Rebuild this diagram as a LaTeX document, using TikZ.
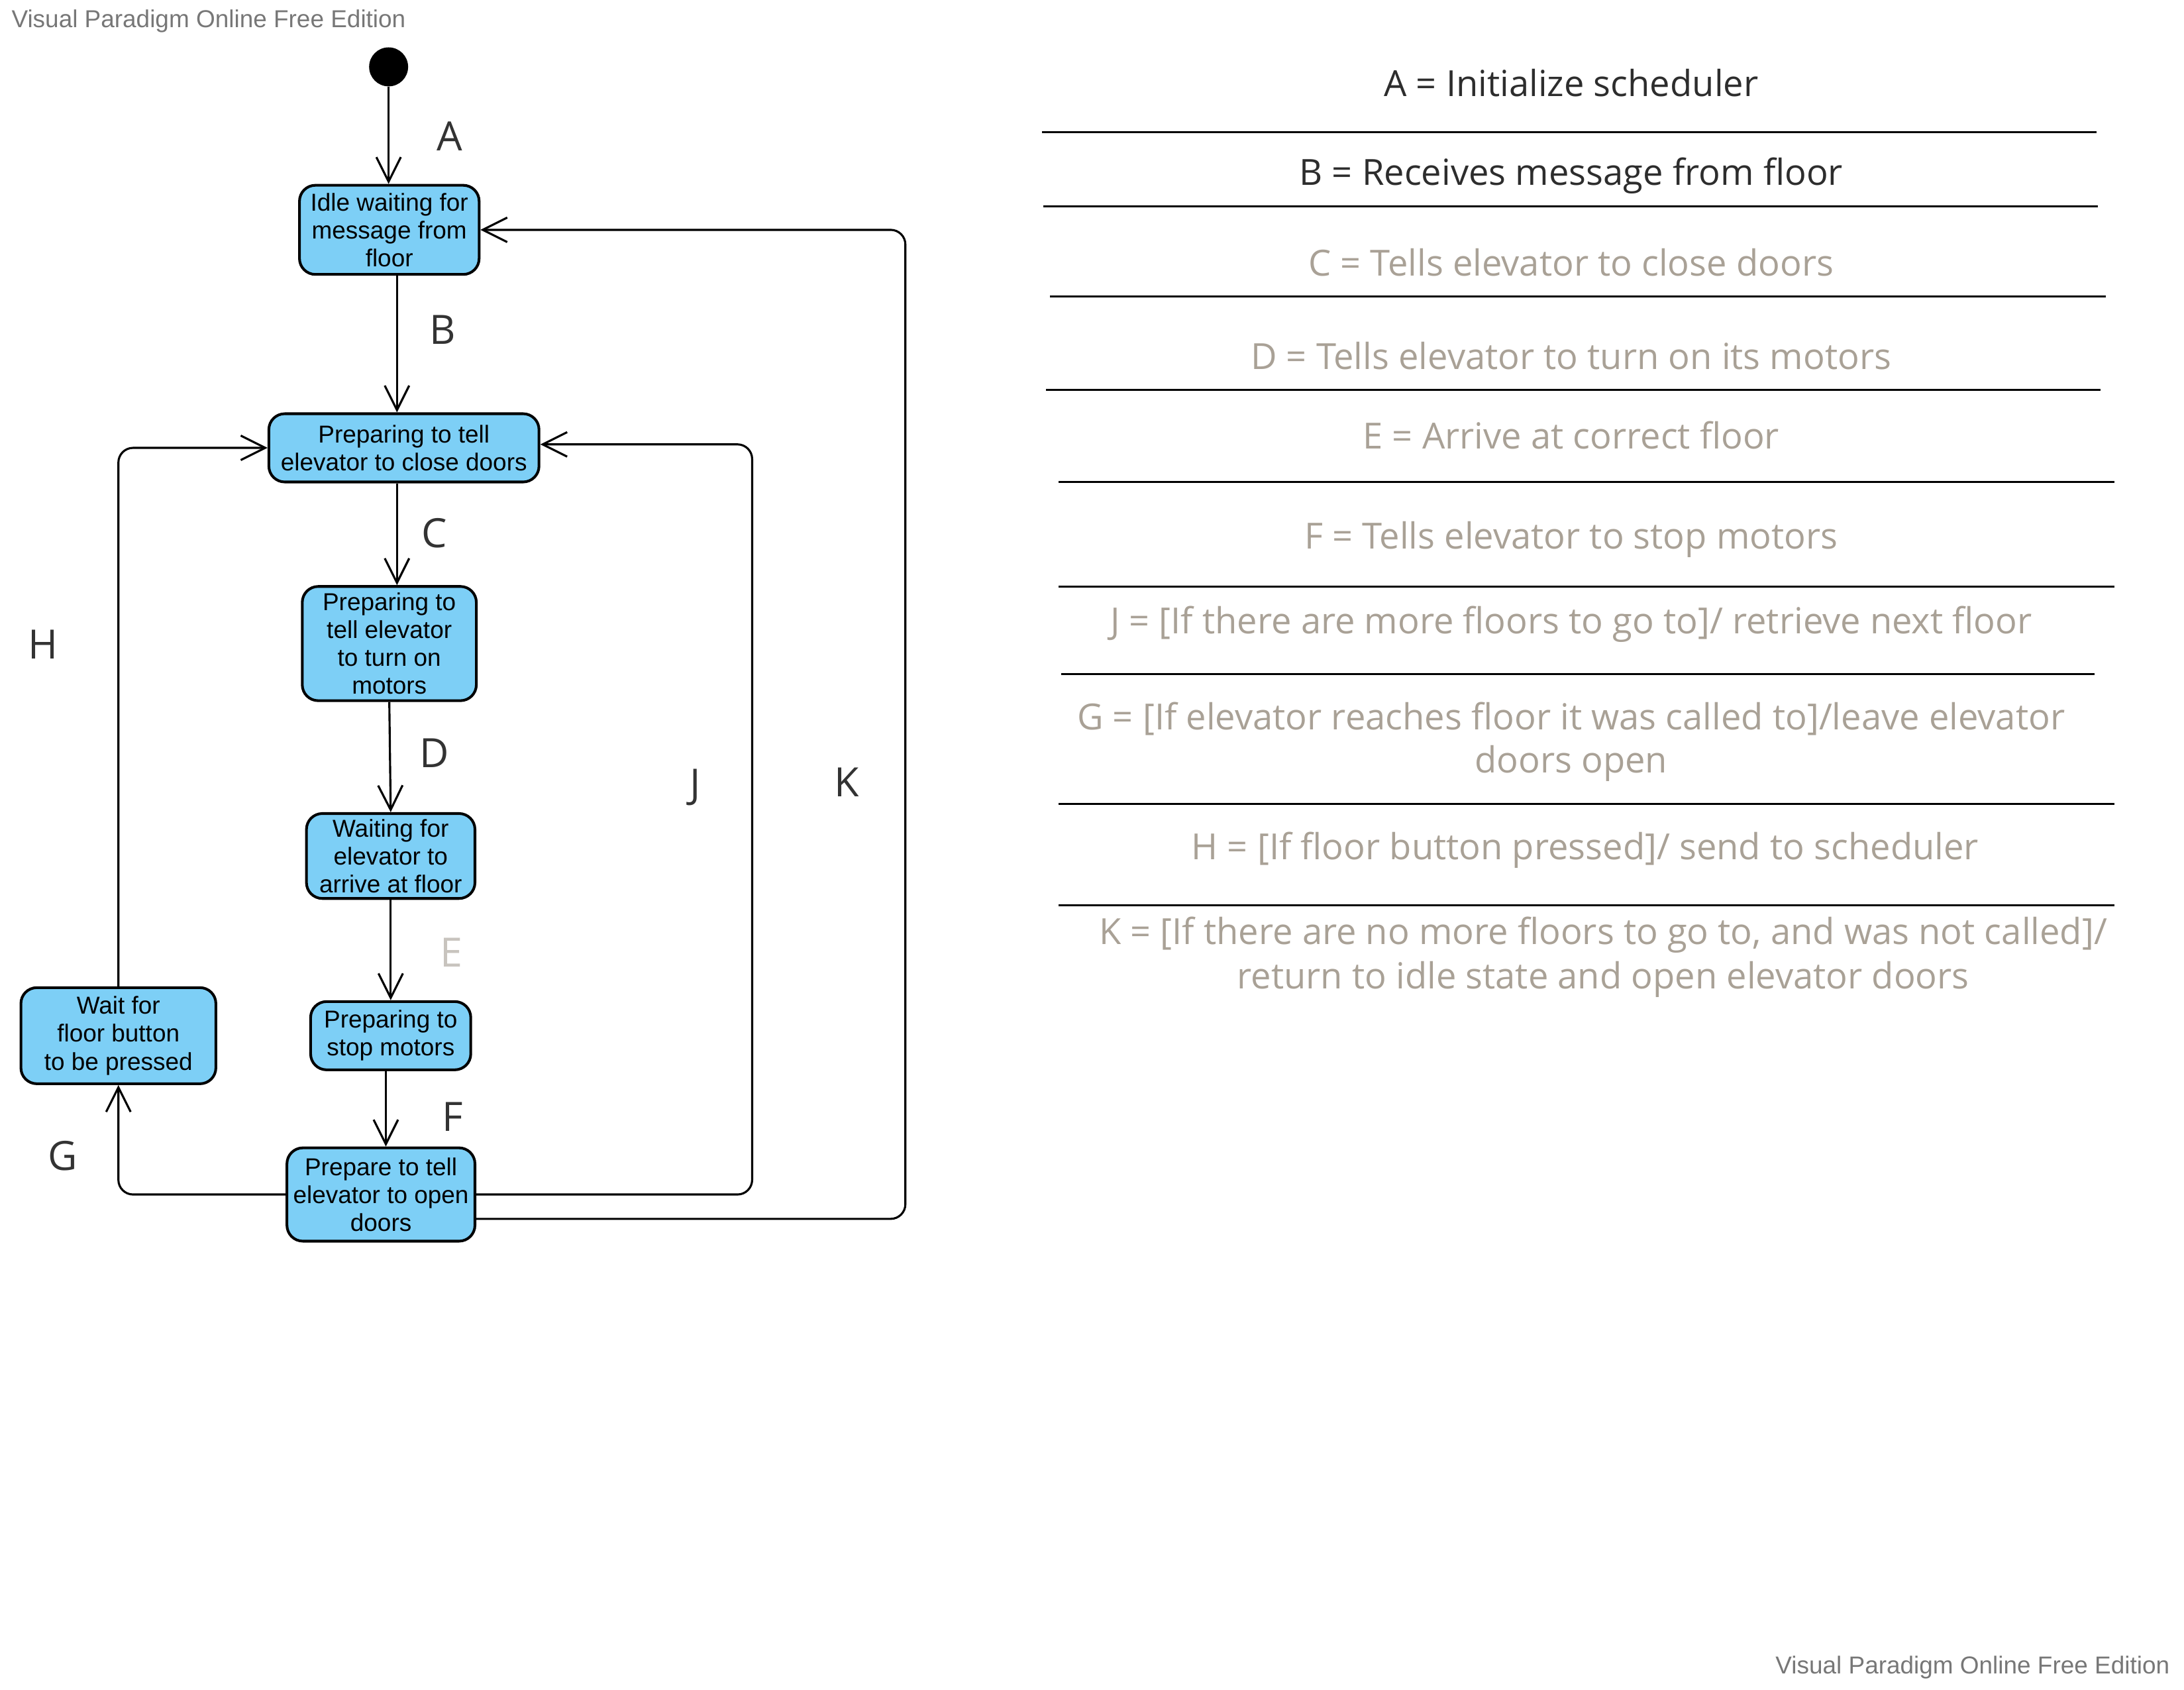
\documentclass[tikz,border=0pt]{standalone}
\usepackage{fontspec}
\setmainfont{Liberation Sans}
\newfontfamily\osans{Open Sans}
\usetikzlibrary{arrows.meta}
\definecolor{boxblue}{RGB}{125,207,246}
\definecolor{lbldark}{RGB}{51,51,51}
\definecolor{legdark}{RGB}{45,45,45}
\definecolor{leggray}{RGB}{169,161,150}
\definecolor{lightE}{RGB}{200,196,190}
\definecolor{wmgray}{RGB}{119,119,119}
\tikzset{
  statebox/.style={draw, line width=1.1pt, fill=boxblue, rounded corners=6.5pt,
    align=center, inner sep=0pt, font=\fontsize{10}{11.4}\selectfont},
  arr/.style={line width=0.85pt, -{Straight Barb[length=10pt,width=10pt]}},
  conn/.style={arr, rounded corners=6pt},
  lbl/.style={font=\osans\fontsize{16.5}{19}\selectfont, text=lbldark, anchor=base, inner sep=0pt},
  legtxt/.style={font=\osans\fontsize{14.7}{17.6}\selectfont, anchor=base, inner sep=0pt, align=center},
  legline/.style={line width=0.8pt},
  wm/.style={font=\fontsize{10}{12}\selectfont, text=wmgray, inner sep=0pt}
}
\begin{document}
\begin{tikzpicture}[x=0.02cm,y=-0.02cm]
\useasboundingbox (0,0) rectangle (1568,1213);
% watermarks
\node[wm, anchor=west] (wm1) at (8,15) {Visual Paradigm Online Free Edition};
\node[wm, anchor=east] (wm2) at (1558,1197) {Visual Paradigm Online Free Edition};
% initial state
\node[circle, fill=black, minimum size=0.56cm, inner sep=0pt] (init) at (279,48) {};
% states
\node[statebox, minimum width=2.58cm, minimum height=1.28cm] (b1) at (279.5,165) {Idle waiting for\\message from\\floor};
\node[statebox, minimum width=3.88cm, minimum height=0.98cm] (b2) at (290,321.5) {Preparing to tell\\elevator to close doors};
\node[statebox, minimum width=2.50cm, minimum height=1.64cm] (b3) at (279.5,462) {Preparing to\\tell elevator\\to turn on\\motors};
\node[statebox, minimum width=2.42cm, minimum height=1.22cm] (b4) at (280.5,614.5) {Waiting for\\elevator to\\arrive at floor};
\node[statebox, minimum width=2.30cm, minimum height=0.98cm] (b5) at (280.5,743.5) {Preparing to\\stop motors};
\node[statebox, minimum width=2.70cm, minimum height=1.34cm] (b6) at (273.5,857.5) {Prepare to tell\\elevator to open\\doors};
\node[statebox, minimum width=2.80cm, minimum height=1.38cm] (b7) at (85,743.5) {Wait for\\floor button\\to be pressed};
% helper coordinates
\coordinate (xB) at (285,0);
\coordinate (xF) at (277,0);
\coordinate (jc) at (540,319);
\coordinate (kc) at (650,875);
% transitions
\draw[arr] (init.south) -- (init.south |- b1.north);
\draw[arr] (b1.south -| xB) -- (b2.north -| xB);
\draw[arr] (b2.south -| xB) -- (b3.north -| xB);
\draw[arr] (b3.south) -- (b4.north);
\draw[arr] (b4.south) -- (b5.north);
\draw[arr] (b5.south -| xF) -- (b6.north -| xF);
\draw[conn] (b6.west) -| (b7.south);
\draw[conn] (b7.north) |- (b2.west);
\draw[conn] (b6.east) -| (jc) -- (b2.east |- jc);
\draw[conn] (b6.east |- kc) -- (kc) |- (b1.east);
% transition labels
\node[lbl] (lA) at (323,108) {A};
\node[lbl] (lB) at (318,247) {B};
\node[lbl] (lC) at (312,393) {C};
\node[lbl] (lD) at (312,551) {D};
\node[lbl, text=lightE] (lE) at (324,694) {E};
\node[lbl] (lF) at (325,812) {F};
\node[lbl] (lG) at (45,840) {G};
\node[lbl] (lH) at (31,473) {H};
\node[lbl] (lJ) at (499,573) {J};
\node[lbl] (lK) at (608,572) {K};
% legend
\node[legtxt, text=legdark] (tA) at (1128,69) {A = Initialize scheduler};
\draw[legline] (748,95) -- (1505,95);
\node[legtxt, text=legdark] (tB) at (1128,133) {B = Receives message from floor};
\draw[legline] (749,148) -- (1506,148);
\node[legtxt, text=leggray] (tC) at (1128,198) {C = Tells elevator to close doors};
\draw[legline] (754,213) -- (1512,213);
\node[legtxt, text=leggray] (tD) at (1128,265) {D = Tells elevator to turn on its motors};
\draw[legline] (751,280) -- (1508,280);
\node[legtxt, text=leggray] (tE) at (1128,322) {E = Arrive at correct floor};
\draw[legline] (760,346) -- (1518,346);
\node[legtxt, text=leggray] (tF) at (1128,394) {F = Tells elevator to stop motors};
\draw[legline] (760,421) -- (1518,421);
\node[legtxt, text=leggray] (tJ) at (1128,455) {J = [If there are more floors to go to]/ retrieve next floor};
\draw[legline] (762,484) -- (1504,484);
\node[legtxt, text=leggray] (tG) at (1128,555) {G = [If elevator reaches floor it was called to]/leave elevator\\doors open};
\draw[legline] (760,577) -- (1518,577);
\node[legtxt, text=leggray] (tH) at (1138,617) {H = [If floor button pressed]/ send to scheduler};
\draw[legline] (760,650) -- (1518,650);
\node[legtxt, text=leggray, font=\osans\fontsize{14.7}{18.2}\selectfont] (tK) at (1151,710) {K = [If there are no more floors to go to, and was not called]/\\return to idle state and open elevator doors};
\end{tikzpicture}
\end{document}
